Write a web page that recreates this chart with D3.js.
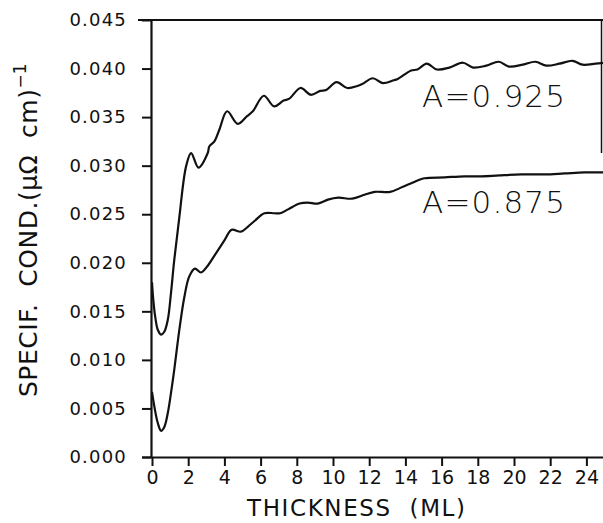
<!DOCTYPE html>
<html>
<head>
<meta charset="utf-8">
<script src="https://cdn.jsdelivr.net/npm/d3@7"></script>
<style>
  html, body { margin: 0; padding: 0; background: #fff; }
  svg { display: block; }
  text { font-family: "DejaVu Sans", sans-serif; fill: #111; white-space: pre; }
</style>
</head>
<body>
<script>
// ---- data ----
const xTicks = [0, 2, 4, 6, 8, 10, 12, 14, 16, 18, 20, 22, 24];
const yTicks = [0.000, 0.005, 0.010, 0.015, 0.020, 0.025, 0.030, 0.035, 0.040, 0.045];

// A = 0.925 curve: thickness (ML)
const thickA925 = [0, 0.07, 0.18, 0.32, 0.50, 0.68, 0.87, 1.05, 1.23, 1.51, 1.88, 2.16, 2.57, 3.08, 3.17, 3.45, 3.72,
  4.15, 4.74, 5.25, 5.57, 6.18, 6.75, 7.27, 7.59, 8.20, 8.78, 9.29, 9.62, 10.20, 10.79, 11.34, 11.61, 12.20, 12.75,
  13.36, 13.55, 14.32, 14.66, 15.18, 15.74, 16.43, 17.18, 17.74, 18.47, 19.16, 19.72, 20.49, 21.18, 21.79, 22.51,
  23.23, 23.78, 24.50, 24.94];
// specific conductance (1/(µΩ cm))
const condA925 = [0.0180, 0.0162, 0.0144, 0.0131, 0.0126, 0.0129, 0.0141, 0.0169, 0.0203, 0.0247, 0.0299, 0.0313, 0.0298,
  0.0313, 0.0320, 0.0325, 0.0337, 0.0356, 0.0343, 0.0351, 0.0356, 0.0372, 0.0361, 0.0367, 0.0369, 0.0380, 0.0373,
  0.0377, 0.0378, 0.0386, 0.0380, 0.0382, 0.0384, 0.0390, 0.0385, 0.0388, 0.0389, 0.0398, 0.0399, 0.0405, 0.0399,
  0.0401, 0.0406, 0.0401, 0.0403, 0.0407, 0.0402, 0.0404, 0.0407, 0.0403, 0.0405, 0.0408, 0.0404, 0.0405, 0.0406];

// A = 0.875 curve
const thickA875 = [0, 0.13, 0.32, 0.50, 0.68, 0.87, 1.05, 1.23, 1.51, 1.79, 2.06, 2.37, 2.71, 3.08, 3.54, 4.00, 4.40,
  4.91, 5.29, 5.66, 6.21, 6.76, 7.08, 7.52, 8.15, 8.61, 9.16, 9.72, 10.29, 11.06, 11.74, 12.30, 13.16, 13.83, 14.33,
  14.71, 15.06, 16.17, 17.27, 18.20, 19.19, 20.41, 21.70, 22.80, 23.91, 24.97];
const condA875 = [0.0067, 0.0052, 0.0035, 0.0027, 0.0031, 0.0045, 0.0066, 0.0090, 0.0131, 0.0165, 0.0186, 0.0194, 0.0190,
  0.0197, 0.0210, 0.0223, 0.0234, 0.0232, 0.0237, 0.0243, 0.0251, 0.0251, 0.0251, 0.0255, 0.0261, 0.0262, 0.0261,
  0.0265, 0.0267, 0.0266, 0.0270, 0.0273, 0.0273, 0.0278, 0.0282, 0.0285, 0.0287, 0.0288, 0.0289, 0.0289, 0.0290,
  0.0291, 0.0291, 0.0292, 0.0293, 0.0293];

const seriesLabels = ["A=0.925", "A=0.875"];
const xTitle = "THICKNESS  (ML)";

// ---- drawing ----
const W = 603, H = 523;
const svg = d3.select("body").append("svg").attr("width", W).attr("height", H);

const x = d3.scaleLinear().domain([0, 25]).range([152, 604.5]);
const y = d3.scaleLinear().domain([0, 0.045]).range([457, 20]);

const ink = "#111";

// frame pieces
svg.append("line").attr("x1", 138).attr("x2", 603).attr("y1", y(0.045)).attr("y2", y(0.045))
  .attr("stroke", ink).attr("stroke-width", 2);
svg.append("line").attr("x1", 601.5).attr("x2", 601.5).attr("y1", y(0.045)).attr("y2", 153)
  .attr("stroke", ink).attr("stroke-width", 1.5);

// left axis
const yAxis = d3.axisLeft(y).tickValues(yTicks).tickSize(9).tickSizeOuter(0).tickPadding(15)
  .tickFormat(d3.format(".3f"));
const gy = svg.append("g").attr("transform", "translate(151,0)").call(yAxis);
gy.select(".domain").attr("stroke", ink).attr("stroke-width", 2.2);
gy.selectAll(".tick line").attr("stroke", ink).attr("stroke-width", 2);
gy.selectAll(".tick text").attr("font-size", 18).attr("letter-spacing", 1.2)
  .attr("font-family", "DejaVu Sans").attr("fill", ink);

// bottom axis
const xAxis = d3.axisBottom(x).tickValues(xTicks).tickSize(9).tickSizeOuter(0).tickPadding(5);
const gx = svg.append("g").attr("transform", "translate(0,457)").call(xAxis);
gx.select(".domain").attr("stroke", ink).attr("stroke-width", 2).attr("d", "M142,0.5H603");
gx.selectAll(".tick line").attr("stroke", ink).attr("stroke-width", 2);
gx.selectAll(".tick text").attr("font-size", 19).attr("font-family", "DejaVu Sans").attr("fill", ink);

// curves
const line = d3.line().x(d => x(d[0])).y(d => y(d[1])).curve(d3.curveCatmullRom.alpha(0.5));
const s925 = thickA925.map((t, i) => [t, condA925[i]]);
const s875 = thickA875.map((t, i) => [t, condA875[i]]);
[s925, s875].forEach(s => {
  svg.append("path").datum(s).attr("d", line).attr("fill", "none")
    .attr("stroke", ink).attr("stroke-width", 2.2).attr("stroke-linejoin", "round");
});

// series labels
svg.append("text").attr("x", 422).attr("y", 107).attr("font-size", 31).attr("font-weight", 300)
  .attr("textLength", 143).attr("lengthAdjust", "spacing").text(seriesLabels[0]);
svg.append("text").attr("x", 422).attr("y", 213).attr("font-size", 31).attr("font-weight", 300)
  .attr("textLength", 143).attr("lengthAdjust", "spacing").text(seriesLabels[1]);

// x title
svg.append("text").attr("x", 356).attr("y", 516).attr("text-anchor", "middle")
  .attr("font-size", 23).attr("textLength", 218).attr("lengthAdjust", "spacing").text(xTitle);

// y title (rotated)
const yt = svg.append("text").attr("transform", "translate(37,397) rotate(-90)")
  .attr("font-size", 25);
yt.append("tspan").attr("textLength", 308).attr("lengthAdjust", "spacing").text("SPECIF.  COND.(µΩ  cm)");
yt.append("tspan").attr("font-size", 17).attr("dy", -11).text("−1");
</script>
</body>
</html>
